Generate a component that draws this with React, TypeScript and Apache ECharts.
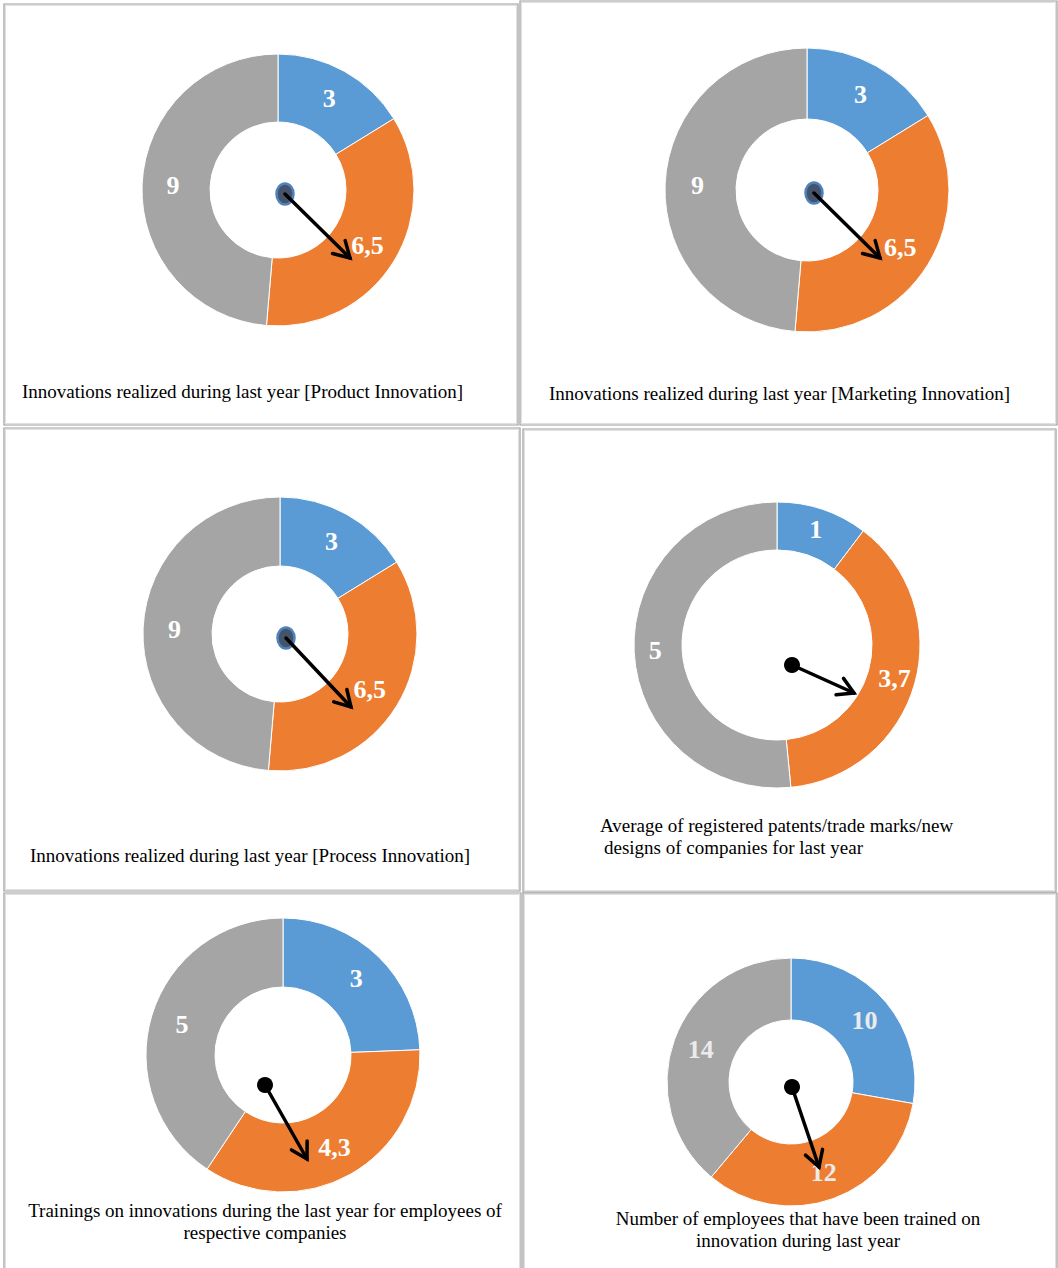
import React, { useEffect, useRef } from "react";
import * as echarts from "echarts";

// ---- data ----
const sliceColors = ["#5B9BD5", "#ED7D31", "#A5A5A5"];
const productValues = [3, 6.5, 9];
const marketingValues = [3, 6.5, 9];
const processValues = [3, 6.5, 9];
const patentValues = [1, 3.7, 5];
const trainingValues = [3, 4.3, 5];
const employeeValues = [10, 12, 14];

const titleProduct = ["Innovations realized during last year [Product Innovation]"];
const titleMarketing = ["Innovations realized during last year [Marketing Innovation]"];
const titleProcess = ["Innovations realized during last year [Process Innovation]"];
const titlePatent = ["Average of registered patents/trade marks/new", "designs of companies for last year"];
const titleTraining = ["Trainings on innovations during the last year for employees of", "respective companies"];
const titleEmployee = ["Number of employees that have been trained on", "innovation during last year"];

// ---- layout (positions / styles) ----
type Panel = {
  values: number[];
  title: string[];
  box: [number, number, number, number];
  center: [number, number];
  radius: [number, number];
  titleX: number[];
  titleY: number[];
  titleAlign: "left" | "center";
  labelColor: string;
  hub: [number, number];
  tip: [number, number];
  hubStyle: "ellipse" | "dot";
};

const panels: Panel[] = [
  { values: productValues, title: titleProduct, box: [4, 4, 518, 425], center: [278, 190], radius: [68, 136],
    titleX: [22], titleY: [391], titleAlign: "left", labelColor: "#ffffff", hub: [7, 4], tip: [72, 68], hubStyle: "ellipse" },
  { values: marketingValues, title: titleMarketing, box: [520, 1, 1057, 425], center: [807, 190], radius: [71, 142],
    titleX: [549], titleY: [393], titleAlign: "left", labelColor: "#ffffff", hub: [7, 3], tip: [73, 68], hubStyle: "ellipse" },
  { values: processValues, title: titleProcess, box: [4, 428, 520, 891], center: [280, 634], radius: [68, 137],
    titleX: [30], titleY: [855], titleAlign: "left", labelColor: "#ffffff", hub: [6, 4], tip: [71, 73], hubStyle: "ellipse" },
  { values: patentValues, title: titlePatent, box: [523, 429, 1056, 892], center: [777, 645], radius: [95, 143],
    titleX: [600, 604], titleY: [825, 847], titleAlign: "left", labelColor: "#ffffff", hub: [15, 20], tip: [77, 48], hubStyle: "dot" },
  { values: trainingValues, title: titleTraining, box: [4, 893, 521, 1275], center: [283, 1055], radius: [68, 137],
    titleX: [265, 265], titleY: [1210, 1232], titleAlign: "center", labelColor: "#ffffff", hub: [-18, 30], tip: [24, 104], hubStyle: "dot" },
  { values: employeeValues, title: titleEmployee, box: [523, 893, 1057, 1275], center: [791, 1082], radius: [62, 124],
    titleX: [798, 798], titleY: [1218, 1240], titleAlign: "center", labelColor: "#ebebeb", hub: [1, 5], tip: [28, 85], hubStyle: "dot" },
];

const SERIF = "'Liberation Serif', 'Times New Roman', serif";

function fmt(v: number) {
  return String(v).replace(".", ",");
}

function buildOption() {
  const series: any[] = panels.map((p) => ({
    type: "pie",
    center: p.center,
    radius: p.radius,
    startAngle: 90,
    clockwise: true,
    silent: true,
    avoidLabelOverlap: false,
    itemStyle: { borderColor: "#ffffff", borderWidth: 1 },
    label: {
      show: true,
      position: "inside",
      formatter: (d: any) => fmt(d.value),
      color: p.labelColor,
      fontFamily: SERIF,
      fontWeight: "bold",
      fontSize: 26,
    },
    labelLine: { show: false },
    emphasis: { disabled: true },
    data: p.values.map((v, i) => ({ value: v, itemStyle: { color: sliceColors[i] } })),
  }));

  const graphic: any[] = [];
  panels.forEach((p) => {
    const [x0, y0, x1, y1] = p.box;
    graphic.push({
      type: "rect",
      shape: { x: x0, y: y0, width: x1 - x0, height: y1 - y0 },
      style: { fill: "none", stroke: "#9c9c9c", lineWidth: 1.2 },
      silent: true,
      z: 1,
    });
    graphic.push({
      type: "rect",
      shape: { x: x0 + 1.5, y: y0 + 1.5, width: x1 - x0 - 3, height: y1 - y0 - 3 },
      style: { fill: "none", stroke: "#e0e0e0", lineWidth: 1 },
      silent: true,
      z: 1,
    });
    p.title.forEach((t, i) => {
      graphic.push({
        type: "text",
        x: p.titleX[i],
        y: p.titleY[i],
        style: {
          text: t,
          fontFamily: SERIF,
          fontSize: 19,
          fill: "#000000",
          align: p.titleAlign,
          verticalAlign: "middle",
        },
        silent: true,
        z: 10,
      });
    });
    // needle
    const hx = p.center[0] + p.hub[0];
    const hy = p.center[1] + p.hub[1];
    const tx = p.center[0] + p.tip[0];
    const ty = p.center[1] + p.tip[1];
    const ang = Math.atan2(ty - hy, tx - hx);
    const arm = 18;
    const spread = (30 * Math.PI) / 180;
    const a1: [number, number] = [tx - arm * Math.cos(ang - spread), ty - arm * Math.sin(ang - spread)];
    const a2: [number, number] = [tx - arm * Math.cos(ang + spread), ty - arm * Math.sin(ang + spread)];
    graphic.push({
      type: "polyline",
      shape: { points: [[hx, hy], [tx, ty]] },
      style: { stroke: "#000000", lineWidth: 3.5, fill: "none", lineCap: "round" },
      silent: true,
      z: 12,
    });
    graphic.push({
      type: "polyline",
      shape: { points: [a1, [tx, ty], a2] },
      style: { stroke: "#000000", lineWidth: 3.5, fill: "none", lineJoin: "miter", lineCap: "round" },
      silent: true,
      z: 12,
    });
    if (p.hubStyle === "ellipse") {
      graphic.push({
        type: "ellipse",
        shape: { cx: hx, cy: hy, rx: 8.5, ry: 10.5 },
        style: { fill: "#44546A", stroke: "#4F81BD", lineWidth: 2.5 },
        silent: true,
        z: 11,
      });
    } else {
      graphic.push({
        type: "circle",
        shape: { cx: hx, cy: hy, r: 8 },
        style: { fill: "#000000" },
        silent: true,
        z: 11,
      });
    }
  });

  return {
    animation: false,
    backgroundColor: "#ffffff",
    series,
    graphic,
  };
}

export default function App() {
  const ref = useRef<HTMLDivElement>(null);
  useEffect(() => {
    if (!ref.current) return;
    const chart = echarts.init(ref.current, undefined, { renderer: "svg" });
    chart.setOption(buildOption() as any);
    return () => chart.dispose();
  }, []);
  return (
    <div
      ref={ref}
      style={{ position: "absolute", left: 0, top: 0, width: 1058, height: 1268, background: "#ffffff" }}
    />
  );
}
